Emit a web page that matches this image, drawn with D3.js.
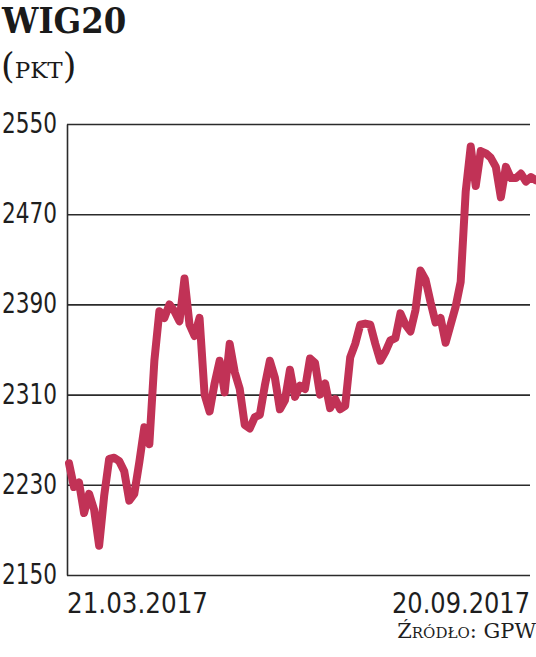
<!DOCTYPE html>
<html>
<head>
<meta charset="utf-8">
<script src="https://cdn.jsdelivr.net/npm/d3@7"></script>
<style>
  html, body { margin: 0; padding: 0; background: #fff; }
  svg { display: block; }
</style>
</head>
<body>
<div id="chart"></div>
<script>
// WIG20 closing values (roughly one point per 5 px)
const values = [
  2249, 2228, 2232, 2205, 2222, 2208, 2176, 2220, 2253, 2254,
  2251, 2242, 2216, 2222, 2250, 2281, 2266, 2340, 2384, 2378,
  2390, 2384, 2375, 2413, 2372, 2362, 2378, 2310, 2295, 2320,
  2340, 2312, 2355, 2330, 2315, 2283, 2280, 2290, 2292, 2318,
  2340, 2325, 2297, 2305, 2332, 2308, 2318, 2315, 2342, 2338,
  2310, 2320, 2298, 2306, 2297, 2300, 2343, 2355, 2372, 2373,
  2372, 2355, 2340, 2348, 2358, 2360, 2382, 2372, 2366, 2385,
  2420, 2412, 2392, 2374, 2378, 2356, 2372, 2388, 2410, 2490,
  2530, 2495, 2526, 2524, 2520, 2512, 2485, 2512, 2502, 2502,
  2506, 2499, 2503, 2500
];
const yTicks = [2150, 2230, 2310, 2390, 2470, 2550];
const dateLabels = ["21.03.2017", "20.09.2017"];
const title = "WIG20";
const unit = "PKT";
const source = "Źródło: GPW";

const width = 536;
const height = 657;
const plotLeft = 67, plotRight = 530, plotTop = 124, plotBottom = 575;
const condensed = '"DejaVu Sans Condensed", "DejaVu Sans", sans-serif';

const svg = d3.select('#chart')
  .append('svg')
  .attr('width', width)
  .attr('height', height);

const x = d3.scaleLinear()
  .domain([0, values.length - 1])
  .range([plotLeft + 2, width]);

const y = d3.scaleLinear()
  .domain([2150, 2550])
  .range([plotBottom, plotTop]);

// gridlines + y axis line
const yAxis = d3.axisLeft(y)
  .tickValues(yTicks)
  .tickSize(-(plotRight - plotLeft))
  .tickSizeOuter(0)
  .tickPadding(10)
  .tickFormat(d3.format('d'));

const gy = svg.append('g')
  .attr('transform', `translate(${plotLeft},0)`)
  .call(yAxis);

gy.select('.domain')
  .attr('stroke', '#2b2b2b')
  .attr('stroke-width', 1.6);
gy.selectAll('.tick line')
  .attr('stroke', '#2b2b2b')
  .attr('stroke-width', 1.6);
gy.selectAll('.tick text')
  .attr('fill', '#1e1e1e')
  .attr('dy', '0.3em')
  .attr('textLength', 55)
  .attr('lengthAdjust', 'spacingAndGlyphs')
  .style('font-family', condensed)
  .style('font-size', '28px');

// the index line
const line = d3.line()
  .x((d, i) => x(i))
  .y(d => y(d))
  .curve(d3.curveLinear);

svg.append('path')
  .datum(values)
  .attr('fill', 'none')
  .attr('stroke', '#c13256')
  .attr('stroke-width', 8)
  .attr('stroke-linejoin', 'round')
  .attr('stroke-linecap', 'round')
  .attr('d', line);

// first and last date under the axis
svg.selectAll('.date')
  .data(dateLabels)
  .enter()
  .append('text')
  .attr('class', 'date')
  .attr('x', (d, i) => i === 0 ? plotLeft : plotRight)
  .attr('y', 613)
  .attr('text-anchor', (d, i) => i === 0 ? 'start' : 'end')
  .attr('fill', '#1e1e1e')
  .attr('textLength', (d, i) => i === 0 ? 141 : 138)
  .attr('lengthAdjust', 'spacingAndGlyphs')
  .style('font-family', condensed)
  .style('font-size', '28px')
  .text(d => d);

// titles
svg.append('text')
  .attr('x', 2)
  .attr('y', 33)
  .attr('fill', '#1a1a1a')
  .style('font-family', '"DejaVu Serif Condensed", "DejaVu Serif", serif')
  .style('font-weight', 'bold')
  .style('font-size', '36px')
  .text(title);

const unitText = svg.append('text')
  .attr('x', 1)
  .attr('y', 78)
  .attr('fill', '#1a1a1a')
  .style('font-family', '"DejaVu Serif", serif');
unitText.append('tspan').style('font-size', '35px').text('(');
unitText.append('tspan').style('font-size', '23px').text(unit);
unitText.append('tspan').style('font-size', '35px').text(')');

svg.append('text')
  .attr('x', 536)
  .attr('y', 638)
  .attr('text-anchor', 'end')
  .attr('fill', '#1e1e1e')
  .style('font-family', '"DejaVu Serif", serif')
  .style('font-variant', 'small-caps')
  .style('font-size', '21px')
  .text(source);
</script>
</body>
</html>
